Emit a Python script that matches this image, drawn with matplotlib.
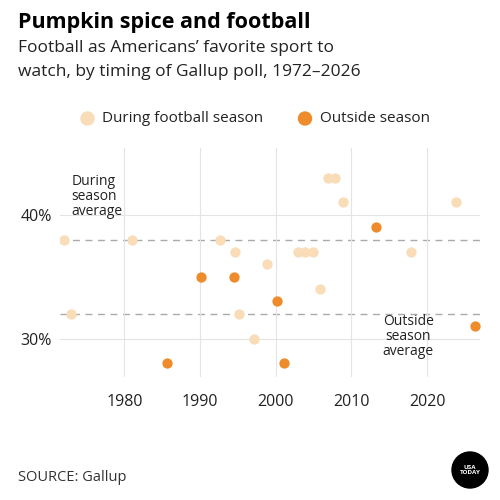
import matplotlib.pyplot as plt
from matplotlib.patches import Circle

during_years = [1972, 1973, 1981, 1992.7, 1994.6, 1995.2, 1997.1, 1998.8, 2002.9, 2003.9, 2004.9,
                2005.9, 2006.9, 2007.9, 2008.9, 2017.9, 2023.8]
during_vals = [38, 32, 38, 38, 37, 32, 30, 36, 37, 37, 37, 34, 43, 43, 41, 37, 41]
outside_years = [1985.6, 1990.1, 1994.5, 2000.2, 2001.1, 2013.3, 2026.4]
outside_vals = [28, 35, 35, 33, 28, 39, 31]
during_avg = 38.0
outside_avg = 32.0
light = '#f9dcb8'
dark = '#ee8c2c'

plt.rcParams['font.family'] = ['Open Sans', 'DejaVu Sans']
fig = plt.figure(figsize=(5, 5), dpi=100)
ax = fig.add_axes([0.12, 0.246, 0.84, 0.458])

ax.axhline(during_avg, color='#aaaaaa', ls=(0, (5, 4)), lw=1, zorder=1)
ax.axhline(outside_avg, color='#aaaaaa', ls=(0, (5, 4)), lw=1, zorder=1)
ax.scatter(during_years, during_vals, s=55, color=light, zorder=3, linewidths=0)
ax.scatter(outside_years, outside_vals, s=55, color=dark, zorder=3, linewidths=0)

ax.set_xlim(1971.5, 2027)
ax.set_ylim(26.9, 45.4)
ax.set_xticks([1980, 1990, 2000, 2010, 2020])
ax.set_yticks([30, 40])
ax.set_yticklabels(['30%', '40%'])
ax.grid(True, color='#e4e4e4', lw=0.8, zorder=0)
for s in ax.spines.values():
    s.set_visible(False)
ax.tick_params(length=0, labelsize=11.5, colors='#222222')
ax.tick_params(axis='x', pad=12)
ax.tick_params(axis='y', pad=6)

ax.text(1973, 41.5, 'During\nseason\naverage', fontsize=10, va='center', ha='left',
        linespacing=1.0, color='#222222', zorder=2)
ax.text(2017.5, 30.2, 'Outside\nseason\naverage', fontsize=10, va='center', ha='center',
        linespacing=1.0, color='#222222', zorder=2)

fig.text(0.035, 0.955, 'Pumpkin spice and football', fontsize=15.5, fontweight='bold', va='center')
fig.text(0.035, 0.905, 'Football as Americans\u2019 favorite sport to', fontsize=12.5, va='center', color='#222222')
fig.text(0.035, 0.857, 'watch, by timing of Gallup poll, 1972\u20132026', fontsize=12.5, va='center', color='#222222')
fig.add_artist(Circle((0.175, 0.763), 0.013, transform=fig.transFigure, color=light))
fig.text(0.205, 0.763, 'During football season', fontsize=11, va='center', color='#222222')
fig.add_artist(Circle((0.61, 0.763), 0.013, transform=fig.transFigure, color=dark))
fig.text(0.64, 0.763, 'Outside season', fontsize=11, va='center', color='#222222')

fig.text(0.035, 0.045, 'SOURCE: Gallup', fontsize=10.5, va='center', color='#333333')
fig.add_artist(Circle((0.94, 0.06), 0.036, transform=fig.transFigure, color='black'))
fig.text(0.94, 0.06, 'USA\nTODAY', fontsize=4.5, fontweight='bold', color='white', ha='center',
         va='center', linespacing=0.9)

fig.savefig('out.png', dpi=100)
